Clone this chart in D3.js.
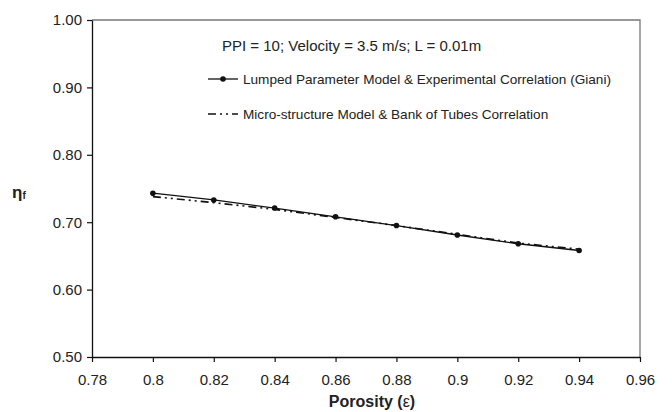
<!DOCTYPE html>
<html>
<head>
<meta charset="utf-8">
<script src="https://cdn.jsdelivr.net/npm/d3@7"></script>
<style>
  body { margin: 0; background: #fff; }
  text { font-family: "Liberation Sans", Arial, sans-serif; fill: #222; }
</style>
</head>
<body>
<div id="chart"></div>
<script>
var porosity = [0.80, 0.82, 0.84, 0.86, 0.88, 0.90, 0.92, 0.94];
var lumped = [0.743, 0.733, 0.721, 0.708, 0.695, 0.681, 0.668, 0.658];
var micro = [0.738, 0.729, 0.719, 0.707, 0.695, 0.682, 0.669, 0.660];
var xTicks = [0.78, 0.8, 0.82, 0.84, 0.86, 0.88, 0.9, 0.92, 0.94, 0.96];
var yTicks = [0.5, 0.6, 0.7, 0.8, 0.9, 1.0];
var titleText = "PPI = 10; Velocity = 3.5 m/s; L = 0.01m";
var legendNames = ["Lumped Parameter Model & Experimental Correlation (Giani)",
                   "Micro-structure Model & Bank of Tubes Correlation"];

var width = 672, height = 412;
var margin = {top: 20, right: 32, bottom: 55, left: 92};
var w = width - margin.left - margin.right,
    h = height - margin.top - margin.bottom;

var svg = d3.select("#chart").append("svg")
    .attr("width", width)
    .attr("height", height);

var g = svg.append("g")
    .attr("transform", "translate(" + margin.left + "," + margin.top + ")");

var x = d3.scaleLinear().domain([0.78, 0.96]).range([0, w]);
var y = d3.scaleLinear().domain([0.5, 1.0]).range([h, 0]);

// frame top/right
g.append("path")
    .attr("d", "M0,0H" + w + "V" + h)
    .attr("fill", "none")
    .attr("stroke", "#777")
    .attr("stroke-width", 1.3);

var xAxis = g.append("g")
    .attr("transform", "translate(0," + h + ")")
    .call(d3.axisBottom(x).tickValues(xTicks).tickSize(5).tickSizeOuter(0)
        .tickFormat(function(d) { return d3.format("")(+d.toFixed(2)); }));
var yAxis = g.append("g")
    .call(d3.axisLeft(y).tickValues(yTicks).tickSize(5).tickSizeOuter(0)
        .tickFormat(d3.format(".2f")));

[xAxis, yAxis].forEach(function(a) {
    a.select(".domain").attr("stroke", "#111").attr("stroke-width", 1.3);
    a.selectAll(".tick line").attr("stroke", "#111").attr("stroke-width", 1.2);
    a.selectAll(".tick text")
        .style("font-family", "Liberation Sans, Arial, sans-serif")
        .style("font-size", "15px")
        .attr("fill", "#222");
});
xAxis.selectAll(".tick text").attr("dy", null).attr("y", 28);
yAxis.selectAll(".tick text").attr("x", -10);

// series
var lineGen = d3.line()
    .x(function(d) { return x(d[0]); })
    .y(function(d) { return y(d[1]); });

g.append("path")
    .datum(d3.zip(porosity, micro))
    .attr("d", lineGen)
    .attr("fill", "none")
    .attr("stroke", "#111")
    .attr("stroke-width", 1.6)
    .attr("stroke-dasharray", "8,4,2,4,2,4");

g.append("path")
    .datum(d3.zip(porosity, lumped))
    .attr("d", lineGen)
    .attr("fill", "none")
    .attr("stroke", "#111")
    .attr("stroke-width", 1.3);

g.selectAll(".dot")
    .data(d3.zip(porosity, lumped))
    .enter().append("circle")
    .attr("cx", function(d) { return x(d[0]); })
    .attr("cy", function(d) { return y(d[1]); })
    .attr("r", 2.8)
    .attr("fill", "#111");

// annotation and legend
g.append("text")
    .attr("x", 130).attr("y", 31)
    .style("font-size", "15px")
    .text(titleText);

var leg = g.append("g").attr("transform", "translate(116,59)");
leg.append("line").attr("x1", 0).attr("x2", 30).attr("y1", 0).attr("y2", 0)
    .attr("stroke", "#111").attr("stroke-width", 1.3);
leg.append("circle").attr("cx", 15).attr("cy", 0).attr("r", 2.8).attr("fill", "#111");
leg.append("text").attr("x", 35).attr("y", 5)
    .style("font-size", "13.6px").text(legendNames[0]);

leg.append("line").attr("x1", 0).attr("x2", 30).attr("y1", 35).attr("y2", 35)
    .attr("stroke", "#111").attr("stroke-width", 1.6)
    .attr("stroke-dasharray", "8,4,2,4,2,4");
leg.append("text").attr("x", 35).attr("y", 40)
    .style("font-size", "13.6px").text(legendNames[1]);

// axis titles
svg.append("text")
    .attr("x", margin.left + w / 2 + 6).attr("y", 407)
    .attr("text-anchor", "middle")
    .style("font-size", "16px").style("font-weight", "bold")
    .text("Porosity (")
    .append("tspan").style("font-weight", "normal").text("ε")
    .select(function() { return this.parentNode; })
    .append("tspan").text(")");

svg.append("text")
    .attr("x", 12).attr("y", 198)
    .style("font-size", "17px").style("font-weight", "bold")
    .text("η")
    .append("tspan").style("font-size", "10px").attr("dy", 1).text("f");
</script>
</body>
</html>
